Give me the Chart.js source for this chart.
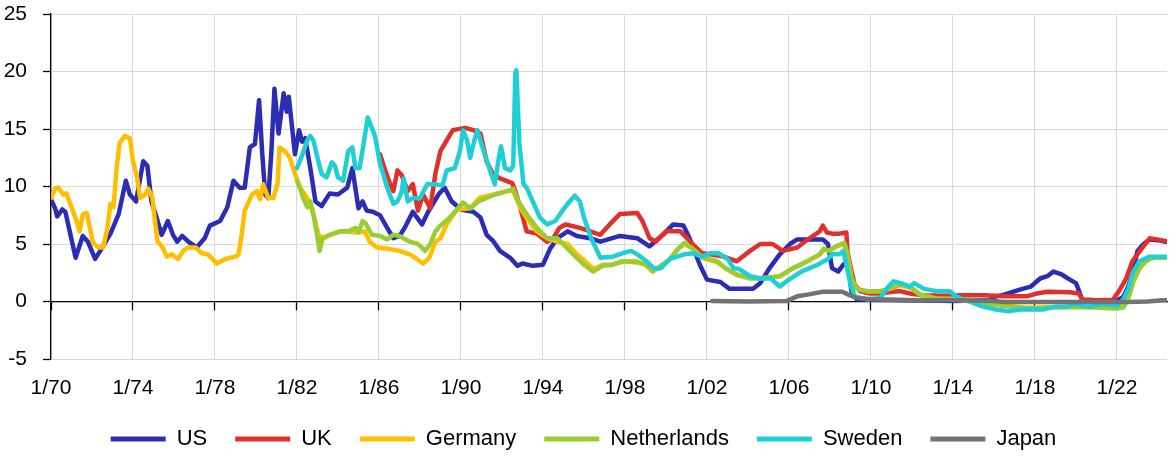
<!DOCTYPE html>
<html>
<head>
<meta charset="utf-8">
<script src="https://cdn.jsdelivr.net/npm/chart.js@4/dist/chart.umd.min.js"></script>
<style>
html,body{margin:0;padding:0;background:#fff;}
#wrap{width:1176px;height:460px;}
</style>
</head>
<body>
<div id="wrap"><canvas id="c" width="1176" height="460"></canvas></div>
<script>
const tickYears = [1970,1974,1978,1982,1986,1990,1994,1998,2002,2006,2010,2014,2018,2022];
const tickLabels = ['1/70','1/74','1/78','1/82','1/86','1/90','1/94','1/98','1/02','1/06','1/10','1/14','1/18','1/22'];
const seriesNames = ['US','UK','Germany','Netherlands','Sweden','Japan'];

const US = [[1970.0,8.9],[1970.2,8.1],[1970.3,7.4],[1970.55,8.0],[1970.7,7.8],[1971.2,3.8],[1971.55,5.7],[1971.8,5.2],[1972.15,3.7],[1972.4,4.4],[1972.9,5.9],[1973.3,7.6],[1973.65,10.5],[1973.85,9.3],[1974.15,8.7],[1974.5,12.2],[1974.7,11.8],[1974.9,8.7],[1975.15,7.3],[1975.4,5.8],[1975.7,7.0],[1975.95,5.8],[1976.15,5.2],[1976.4,5.7],[1976.7,5.2],[1977.1,4.7],[1977.5,5.5],[1977.75,6.6],[1978.25,7.0],[1978.6,8.2],[1978.9,10.5],[1979.2,9.9],[1979.45,9.9],[1979.7,13.4],[1979.95,13.7],[1980.15,17.5],[1980.3,13.0],[1980.45,9.3],[1980.6,9.0],[1980.75,13.0],[1980.9,18.5],[1981.1,14.6],[1981.35,18.1],[1981.5,16.5],[1981.6,17.8],[1981.9,12.8],[1982.1,14.9],[1982.25,13.9],[1982.4,14.2],[1982.65,11.6],[1982.9,8.7],[1983.2,8.3],[1983.6,9.4],[1984.0,9.3],[1984.45,9.9],[1984.7,11.6],[1985.0,8.1],[1985.2,8.7],[1985.4,7.9],[1985.7,7.8],[1986.05,7.5],[1986.4,6.4],[1986.7,5.5],[1987.0,5.7],[1987.25,6.4],[1987.65,7.8],[1988.1,6.7],[1988.4,7.8],[1988.9,9.3],[1989.2,9.9],[1989.55,8.7],[1990.0,8.0],[1990.6,7.8],[1990.95,7.3],[1991.25,5.8],[1991.55,5.3],[1991.9,4.4],[1992.4,3.8],[1992.75,3.1],[1993.0,3.3],[1993.5,3.1],[1994.0,3.2],[1994.35,4.6],[1994.7,5.5],[1995.2,6.1],[1995.65,5.7],[1996.3,5.5],[1996.8,5.2],[1997.75,5.7],[1998.6,5.5],[1999.2,4.8],[1999.85,5.8],[2000.35,6.7],[2000.85,6.6],[2001.15,5.5],[2001.65,3.2],[2002.0,1.9],[2002.65,1.7],[2003.1,1.1],[2004.25,1.1],[2004.6,1.6],[2005.05,2.9],[2005.55,4.1],[2006.05,5.0],[2006.4,5.4],[2007.65,5.4],[2007.9,5.0],[2008.1,2.9],[2008.4,2.6],[2008.65,3.2],[2008.85,3.5],[2009.05,0.9],[2009.3,0.2],[2010.0,0.15],[2012.0,0.1],[2014.0,0.05],[2015.8,0.1],[2016.0,0.4],[2016.5,0.6],[2017.3,1.05],[2017.8,1.3],[2018.25,2.0],[2018.6,2.2],[2018.9,2.6],[2019.3,2.35],[2019.7,1.9],[2020.0,1.6],[2020.15,0.9],[2020.3,0.15],[2021.0,0.1],[2022.0,0.1],[2022.3,0.4],[2022.5,1.1],[2022.75,2.35],[2023.0,4.4],[2023.3,5.0],[2023.6,5.4],[2024.1,5.3],[2024.4,5.2]];

const UK = [[1986.05,12.8],[1986.3,11.4],[1986.55,10.2],[1986.7,9.6],[1986.9,11.4],[1987.1,11.0],[1987.4,9.6],[1987.65,10.2],[1987.9,7.9],[1988.15,9.3],[1988.5,8.1],[1988.75,11.1],[1989.0,13.1],[1989.3,14.0],[1989.6,14.9],[1990.2,15.1],[1990.6,14.9],[1990.95,14.6],[1991.25,12.2],[1991.55,11.1],[1991.9,10.7],[1992.5,10.3],[1992.65,9.6],[1992.9,8.1],[1993.2,6.1],[1993.7,5.9],[1994.2,5.2],[1994.5,5.5],[1994.8,6.4],[1995.1,6.7],[1995.8,6.4],[1996.3,6.1],[1996.8,5.8],[1997.25,6.7],[1997.75,7.6],[1998.6,7.7],[1998.85,7.0],[1999.2,5.5],[1999.5,5.2],[2000.0,6.1],[2000.7,6.1],[2001.3,5.0],[2001.75,4.2],[2002.15,4.1],[2002.8,3.9],[2003.45,3.5],[2004.1,4.4],[2004.6,5.0],[2005.2,5.0],[2005.7,4.4],[2006.4,4.7],[2007.0,5.5],[2007.5,6.1],[2007.65,6.6],[2007.85,6.0],[2008.1,5.9],[2008.45,5.9],[2008.8,6.0],[2008.85,4.4],[2009.05,2.6],[2009.2,1.5],[2009.45,0.9],[2009.95,0.7],[2010.5,0.7],[2011.0,0.85],[2011.4,0.9],[2011.9,0.7],[2012.5,0.55],[2013.5,0.5],[2014.5,0.55],[2015.5,0.55],[2016.5,0.45],[2017.6,0.45],[2018.1,0.7],[2018.6,0.85],[2019.7,0.8],[2020.15,0.7],[2020.3,0.15],[2021.0,0.1],[2021.8,0.15],[2022.1,0.9],[2022.45,2.0],[2022.75,3.5],[2023.2,4.6],[2023.6,5.5],[2023.95,5.4],[2024.4,5.25]];

const Germany = [[1970.0,9.0],[1970.2,9.8],[1970.35,9.9],[1970.6,9.3],[1970.75,9.4],[1971.0,8.2],[1971.25,7.0],[1971.4,6.1],[1971.55,7.6],[1971.75,7.7],[1971.9,6.4],[1972.05,5.1],[1972.3,4.7],[1972.55,4.7],[1972.75,6.4],[1972.9,8.5],[1973.05,8.2],[1973.2,11.6],[1973.35,13.8],[1973.6,14.4],[1973.85,14.2],[1974.0,12.2],[1974.2,10.8],[1974.35,9.0],[1974.6,9.3],[1974.75,9.8],[1974.95,9.0],[1975.05,7.3],[1975.2,5.2],[1975.45,4.7],[1975.65,3.9],[1975.9,4.1],[1976.2,3.7],[1976.45,4.4],[1976.7,4.7],[1977.05,4.7],[1977.35,4.2],[1977.65,4.1],[1978.1,3.3],[1978.5,3.7],[1979.0,3.9],[1979.15,4.1],[1979.3,5.8],[1979.45,7.9],[1979.8,9.3],[1980.05,9.6],[1980.2,8.9],[1980.35,10.2],[1980.6,9.0],[1980.85,9.0],[1981.05,10.2],[1981.15,13.4],[1981.4,13.1],[1981.65,12.5],[1981.9,11.1],[1982.15,9.9],[1982.5,9.0],[1982.8,7.6],[1983.05,5.8],[1983.3,5.5],[1983.6,5.8],[1984.1,6.1],[1984.9,6.0],[1985.3,6.1],[1985.55,5.2],[1985.9,4.7],[1986.4,4.6],[1987.0,4.4],[1987.5,4.1],[1987.85,3.7],[1988.15,3.3],[1988.45,3.8],[1988.75,5.2],[1989.0,5.5],[1989.3,6.7],[1989.8,8.0],[1990.45,8.1],[1990.9,9.0],[1991.6,9.3],[1992.25,9.6],[1992.55,9.6],[1992.9,8.1],[1993.2,7.3],[1993.7,6.1],[1994.2,5.5],[1994.7,5.2],[1995.2,5.0],[1995.65,4.1],[1995.8,3.9],[1996.3,3.1],[1996.5,2.8],[1996.9,3.2],[1997.4,3.2],[1997.9,3.5],[1998.6,3.5],[1999.05,3.1],[1999.3,2.7],[1999.6,2.9],[2000.2,3.7],[2000.6,4.6],[2000.9,5.0],[2001.3,4.6],[2001.8,3.8],[2002.5,3.4],[2002.9,2.9],[2003.45,2.3],[2004.1,2.05],[2004.7,2.05],[2005.55,2.2],[2006.2,2.9],[2006.9,3.5],[2007.5,4.1],[2007.7,4.5],[2007.95,4.4],[2008.3,4.8],[2008.7,5.0],[2008.85,4.1],[2009.05,2.0],[2009.3,1.1],[2009.8,0.9],[2010.45,0.9],[2010.9,1.1],[2011.4,1.4],[2011.9,1.2],[2012.4,0.6],[2013.2,0.25],[2014.0,0.25],[2014.7,0.1],[2015.3,0.0],[2016.2,-0.3],[2017.6,-0.55],[2019.2,-0.45],[2020.8,-0.5],[2021.8,-0.55],[2022.3,-0.5],[2022.55,0.3],[2022.8,1.75],[2023.1,2.9],[2023.4,3.5],[2023.75,3.8],[2024.4,3.8]];

const Netherlands = [[1982.0,10.5],[1982.2,9.6],[1982.3,9.0],[1982.5,8.2],[1982.65,8.7],[1982.8,7.6],[1982.95,6.1],[1983.1,4.4],[1983.25,5.5],[1983.6,5.8],[1984.1,6.1],[1984.5,6.1],[1984.85,6.4],[1985.0,6.0],[1985.2,7.0],[1985.35,6.8],[1985.65,5.8],[1986.05,5.7],[1986.4,5.4],[1986.7,5.8],[1987.0,5.7],[1987.5,5.2],[1987.9,5.0],[1988.25,4.4],[1988.5,5.0],[1988.75,6.1],[1989.0,6.6],[1989.45,7.3],[1989.85,8.1],[1990.1,8.6],[1990.45,8.1],[1990.85,8.7],[1991.25,9.0],[1991.65,9.3],[1992.25,9.6],[1992.55,9.8],[1992.8,8.7],[1993.2,7.6],[1993.7,6.4],[1994.2,5.5],[1994.7,5.5],[1995.2,4.6],[1995.65,3.8],[1996.0,3.2],[1996.45,2.6],[1996.9,3.1],[1997.4,3.2],[1997.9,3.5],[1998.6,3.4],[1999.05,3.2],[1999.35,2.6],[1999.6,2.9],[2000.2,3.7],[2000.6,4.6],[2000.9,5.1],[2001.3,4.6],[2001.8,3.8],[2002.5,3.5],[2002.9,2.9],[2003.45,2.35],[2004.1,2.0],[2004.7,2.0],[2005.55,2.2],[2006.2,2.9],[2006.9,3.5],[2007.5,4.1],[2007.7,4.6],[2007.95,4.4],[2008.3,4.8],[2008.7,5.1],[2008.85,4.1],[2009.05,2.0],[2009.3,1.1],[2009.8,0.9],[2010.45,0.9],[2010.9,1.1],[2011.4,1.5],[2011.9,1.3],[2012.4,0.6],[2013.2,0.25],[2014.0,0.2],[2014.7,0.05],[2015.3,0.0],[2016.2,-0.3],[2017.6,-0.6],[2019.2,-0.5],[2020.8,-0.5],[2021.8,-0.6],[2022.3,-0.55],[2022.55,0.3],[2022.8,1.75],[2023.1,2.9],[2023.4,3.5],[2023.75,3.8],[2024.4,3.8]];

const Sweden = [[1982.0,11.6],[1982.25,12.7],[1982.5,14.0],[1982.65,14.4],[1982.8,14.0],[1983.0,12.5],[1983.2,11.1],[1983.45,10.8],[1983.7,12.1],[1983.85,11.8],[1984.0,10.8],[1984.25,10.5],[1984.5,13.1],[1984.7,13.4],[1984.85,11.6],[1985.05,11.6],[1985.25,13.7],[1985.45,16.0],[1985.65,15.1],[1985.8,14.4],[1986.05,12.0],[1986.4,9.9],[1986.7,8.5],[1986.9,8.7],[1987.1,9.5],[1987.2,10.7],[1987.4,8.7],[1987.65,9.0],[1988.0,9.0],[1988.35,10.2],[1988.75,10.2],[1989.1,10.1],[1989.3,11.4],[1989.7,11.6],[1989.95,13.1],[1990.1,14.9],[1990.3,14.0],[1990.45,12.5],[1990.65,14.0],[1990.8,14.9],[1991.05,13.4],[1991.3,12.0],[1991.65,10.2],[1991.8,12.0],[1991.95,13.5],[1992.15,11.6],[1992.4,11.4],[1992.55,11.8],[1992.65,19.9],[1992.7,20.1],[1992.85,13.7],[1993.05,10.2],[1993.2,9.9],[1993.5,8.7],[1993.85,7.3],[1994.2,6.7],[1994.6,7.0],[1994.95,7.9],[1995.3,8.7],[1995.55,9.2],[1995.8,8.7],[1996.0,7.3],[1996.35,5.5],[1996.8,3.8],[1997.4,3.9],[1997.9,4.2],[1998.3,4.4],[1998.6,4.1],[1999.05,3.5],[1999.4,2.9],[1999.75,2.9],[2000.2,3.7],[2000.55,3.9],[2000.9,4.1],[2001.3,4.2],[2001.75,3.9],[2002.15,4.2],[2002.55,4.2],[2003.0,3.7],[2003.3,2.9],[2003.6,2.8],[2004.1,2.2],[2004.6,2.0],[2005.1,2.0],[2005.55,1.3],[2006.0,1.9],[2006.6,2.6],[2007.4,3.2],[2007.9,3.7],[2008.1,4.1],[2008.45,4.1],[2008.65,4.4],[2008.8,3.2],[2009.0,1.5],[2009.2,0.45],[2009.8,0.2],[2010.45,0.3],[2010.85,1.3],[2011.1,1.75],[2011.45,1.6],[2011.9,1.3],[2012.1,1.6],[2012.6,1.1],[2013.2,0.9],[2013.85,0.9],[2014.2,0.4],[2014.8,0.0],[2015.4,-0.4],[2016.1,-0.7],[2016.7,-0.85],[2017.3,-0.7],[2018.4,-0.7],[2019.0,-0.45],[2019.5,-0.45],[2019.95,-0.25],[2020.6,-0.45],[2021.3,-0.25],[2022.0,-0.4],[2022.3,0.15],[2022.55,1.1],[2022.8,2.6],[2023.1,3.5],[2023.6,3.9],[2024.4,3.9]];

const Japan = [[2002.25,0.05],[2004.0,0.0],[2005.9,0.05],[2006.4,0.45],[2006.9,0.6],[2007.65,0.85],[2008.6,0.85],[2008.9,0.6],[2009.3,0.3],[2010.0,0.2],[2012.0,0.1],[2014.0,0.1],[2016.0,0.05],[2016.5,-0.05],[2020.0,-0.05],[2022.5,-0.05],[2023.5,0.0],[2024.2,0.1],[2024.4,0.1]];

const seriesData = [US, UK, Germany, Netherlands, Sweden, Japan];
const colors = ['#2b2db3','#e0302b','#ffbf00','#9acd32','#1ecfd6','#737373'];
const drawOrder = [6,5,4,3,2,1];

const FONT = "'Liberation Sans', Arial, sans-serif";
const X_MIN = 1970, X_MAX = 2024.44;

const datasets = seriesNames.map((name, i) => ({
  label: name,
  data: seriesData[i].map(p => ({x: p[0], y: p[1]})),
  borderColor: colors[i],
  backgroundColor: colors[i],
  borderWidth: 4.5,
  pointRadius: 0,
  tension: 0,
  fill: false,
  order: drawOrder[i],
  borderJoinStyle: 'round',
  borderCapStyle: 'round'
}));

const setTicks = s => { s.ticks = tickYears.map(v => ({value: v})); };

new Chart(document.getElementById('c'), {
  type: 'line',
  data: { datasets },
  options: {
    responsive: false,
    animation: false,
    layout: { padding: { top: 2, right: 9, left: 0, bottom: 0 } },
    plugins: {
      tooltip: { enabled: false },
      legend: {
        position: 'bottom',
        labels: {
          boxWidth: 55,
          boxHeight: 5,
          padding: 28,
          color: '#000',
          font: { size: 22, family: FONT },
          sort: (a, b) => a.datasetIndex - b.datasetIndex,
          generateLabels: chart => Chart.defaults.plugins.legend.labels.generateLabels(chart).map(l => Object.assign(l, { lineWidth: 0, fillStyle: colors[l.datasetIndex] }))
        }
      }
    },
    scales: {
      x: {
        type: 'linear',
        min: X_MIN, max: X_MAX,
        afterBuildTicks: setTicks,
        afterFit: s => { s.height = 41; },
        ticks: {
          autoSkip: false, maxRotation: 0, padding: 17, color: '#000',
          font: { size: 21, family: FONT },
          callback: v => tickLabels[tickYears.indexOf(v)]
        },
        grid: { color: '#d9d9d9', lineWidth: 1, drawTicks: false },
        border: { display: false }
      },
      x0: {
        type: 'linear',
        position: { y: 0 },
        min: X_MIN, max: X_MAX,
        afterBuildTicks: setTicks,
        ticks: { display: false },
        grid: { drawOnChartArea: false, drawTicks: true, tickLength: 8, tickColor: '#000', tickWidth: 1.3 },
        border: { display: true, color: '#000', width: 1.3 }
      },
      y: {
        min: -5, max: 25,
        afterFit: s => { s.width = 51; s.paddingTop = 14; s.paddingBottom = 0; },
        ticks: { stepSize: 5, padding: 16, color: '#000', font: { size: 21, family: FONT } },
        grid: { color: '#d9d9d9', lineWidth: 1, tickLength: 8, tickColor: '#000', tickWidth: 1.3 },
        border: { color: '#000', width: 1.3 }
      }
    }
  }
});
</script>
</body>
</html>
